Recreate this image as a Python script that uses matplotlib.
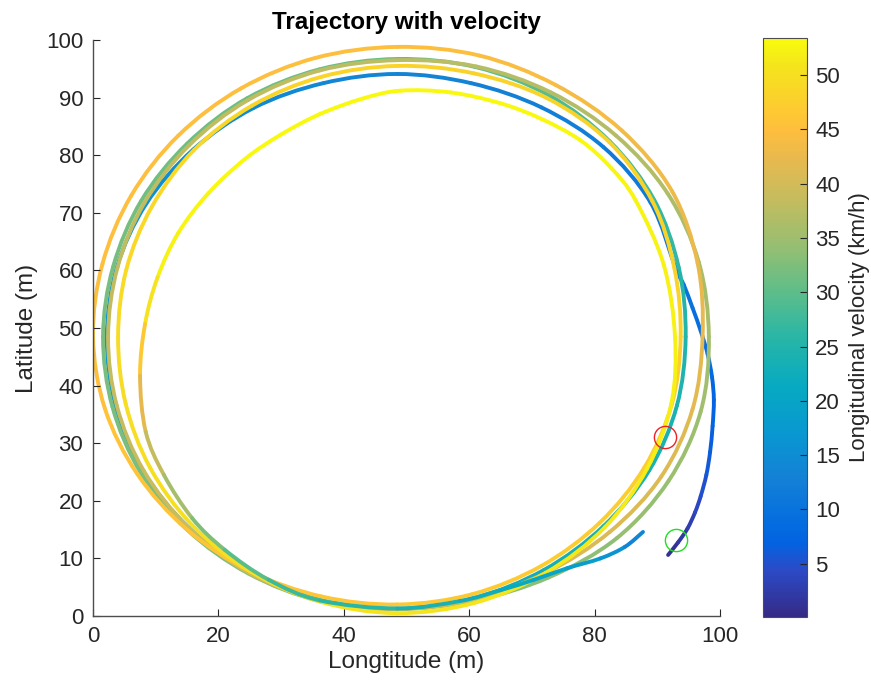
import numpy as np
import matplotlib.pyplot as plt
from matplotlib.collections import PatchCollection
from matplotlib.patches import PathPatch
from matplotlib.path import Path
from matplotlib.colors import LinearSegmentedColormap, Normalize

plt.rcParams['font.family'] = ['Liberation Sans', 'DejaVu Sans']

# trajectory: x (m), y (m), speed (km/h)
# pull-away from the start up the right side
start_x = [91.7, 93.3, 94.8, 96.0, 96.9, 97.8, 98.4, 98.8, 99.0, 98.7, 98.0, 96.9, 95.6, 94.2]
start_y = [10.6, 12.8, 15.2, 18.0, 20.8, 24.5, 28.5, 33.0, 37.5, 41.5, 45.5, 49.5, 53.5, 57.5]
start_v = [0.5, 1.5, 2.5, 3.5, 4.5, 5.5, 6.5, 7.0, 7.5, 8.0, 8.5, 9.0, 9.5, 10.0]

lap1_x = [92.9, 88.9, 81.4, 71.5, 60.3, 48.5, 36.7, 25.6, 16.0, 8.5, 3.8, 2.2,
          3.6, 8.0, 15.3, 24.9, 36.2, 48.5, 60.7, 71.9, 81.4, 88.7, 93.1]
lap1_y = [60.4, 71.8, 81.4, 88.3, 92.5, 94.1, 92.5, 88.2, 81.0, 71.6, 60.5, 48.5,
          36.5, 25.1, 15.3, 7.6, 2.8, 1.3, 3.1, 8.0, 15.6, 25.3, 36.5]
lap1_v = [10.5, 11, 12, 12.5, 13, 13.5, 14, 14.5, 15, 15.5, 16, 16.5,
          17, 18, 19, 20, 21, 22, 22.5, 23, 23.5, 24, 24.5]

lap2_x = [94.5, 93.4, 89.5, 82.4, 72.7, 61.0, 48.5, 36.1, 24.6, 15.0, 7.7, 3.2,
          1.6, 3.1, 7.6, 15.0, 24.75, 36.2, 48.5, 60.8, 72.65, 83.5, 91.8, 96.9]
lap2_y = [48.5, 60.5, 72.2, 82.4, 90.4, 95.3, 96.7, 94.9, 89.9, 82.0, 72.1, 60.6,
          48.5, 36.3, 24.9, 15.0, 7.4, 2.6, 1.2, 2.7, 6.7, 13.5, 23.5, 35.5]
lap2_v = [25, 26, 27, 28, 29, 30, 30.5, 31, 31, 31.5, 31.5, 32,
          32, 32, 32, 32, 32.5, 32.5, 33, 33, 33.5, 34, 34.5, 35]

lap3_x = [98.2, 96.6, 91.6, 83.4, 73.0, 61.1, 48.5, 36.1, 24.75, 15.3, 8.2, 3.9,
          2.4, 3.8, 8.1, 15.3, 24.85, 36.2, 48.5, 60.7, 72.2, 82.4, 90.6, 95.6]
lap3_y = [48.5, 61.4, 73.4, 83.4, 90.9, 95.4, 96.5, 94.7, 89.6, 81.7, 71.75, 60.5,
          48.5, 36.5, 25.2, 15.3, 7.5, 2.7, 1.2, 2.9, 7.5, 14.6, 24.2, 35.9]
lap3_v = [35.5, 36, 36.5, 37, 37, 37.5, 37.5, 38, 38, 38, 38, 38,
          38.5, 38.5, 39, 39, 39.5, 39.5, 40, 40, 40.5, 41, 41, 41.5]

lap4_x = [97.2, 96.4, 92.3, 84.3, 73.75, 61.6, 48.5, 35.5, 23.6, 13.6, 6.1, 1.5,
          0.0, 1.9, 7.1, 15.0, 25.0, 36.4, 48.5, 60.5, 71.5, 80.8, 87.9, 92.3]
lap4_y = [48.5, 61.3, 73.8, 84.3, 92.2, 97.3, 98.8, 96.9, 91.6, 83.4, 73.0, 61.1,
          48.5, 36.0, 24.6, 15.0, 7.8, 3.4, 2.0, 3.8, 8.7, 16.2, 25.75, 36.8]
lap4_v = [42, 42.5, 43, 43.5, 44, 44.5, 45, 45, 45, 45, 45, 45,
          45, 45.5, 45.5, 46, 46, 46, 46.5, 46.5, 47, 47, 47.5, 47.5]

lap5_x = [93.7, 92.7, 89.2, 82.3, 72.4, 60.75, 48.5, 36.4, 25.35, 16.1, 9.4, 5.3,
          4.0, 5.2, 9.1, 15.8, 25.0, 36.2, 48.5, 60.9, 72.2, 81.6, 88.3, 92.2]
lap5_y = [48.5, 60.4, 72.0, 82.3, 89.9, 94.2, 95.5, 93.6, 88.6, 80.9, 71.1, 60.1,
          48.5, 36.9, 25.75, 15.8, 7.8, 2.5, 0.5, 2.3, 7.5, 15.4, 25.5, 36.8]
lap5_v = [48, 48, 48, 48, 48, 48, 48, 48.5, 48.5, 49, 49, 49,
          49.5, 49.5, 50, 50, 50, 50.5, 50.5, 51, 51, 51.5, 51.5, 52]

# last lap: fast on top, braking down the left side, rolling out at the bottom
lap6_x = [92.8, 91.0, 86.5, 82.6, 77.7, 71.5, 65.0, 57.0, 49.0, 42.9, 36.1, 30.0,
          24.3, 18.4, 13.6, 10.3, 8.3, 7.5, 8.4, 11.3, 15.8, 21.0, 28.0,
          36.2, 48.5, 58.5, 65.0, 70.2, 75.6, 80.9, 84.8, 87.7]
lap6_y = [48.5, 61.0, 72.2, 77.8, 82.6, 86.3, 89.0, 90.9, 91.2, 89.8, 87.1, 83.6,
          79.4, 73.4, 66.5, 58.8, 50.7, 41.7, 32.0, 24.5, 17.0, 11.5, 6.3,
          2.7, 1.3, 2.6, 4.5, 6.25, 8.3, 10.0, 12.0, 14.6]
lap6_v = [52, 52.5, 52.5, 53, 53, 53, 53, 53, 53, 53, 53, 53,
          53, 53, 52.5, 52, 49, 44, 40, 37, 34, 31, 28,
          26.5, 25, 23.5, 22, 21, 19.5, 17.5, 15, 12]

start_marker = (93.0, 13.2)
end_marker = (91.2, 31.1)

v_min, v_max = 0.1, 53.4
cbar_ticks = [5, 10, 15, 20, 25, 30, 35, 40, 45, 50]
axis_ticks_x = [0, 20, 40, 60, 80, 100]
axis_ticks_y = [0, 10, 20, 30, 40, 50, 60, 70, 80, 90, 100]

# MATLAB parula, sampled
parula_pts = [
    (0 / 63, (0.2081, 0.1663, 0.5292)),
    (5 / 63, (0.1707, 0.2919, 0.7792)),
    (8 / 63, (0.0117, 0.3875, 0.8820)),
    (10 / 63, (0.0165, 0.4266, 0.8786)),
    (15 / 63, (0.0779, 0.5040, 0.8384)),
    (20 / 63, (0.0343, 0.5966, 0.8199)),
    (25 / 63, (0.0267, 0.6642, 0.7607)),
    (30 / 63, (0.1453, 0.7098, 0.6646)),
    (35 / 63, (0.3482, 0.7424, 0.5473)),
    (40 / 63, (0.5709, 0.7485, 0.4494)),
    (45 / 63, (0.7525, 0.7384, 0.3768)),
    (50 / 63, (0.9139, 0.7258, 0.3063)),
    (53 / 63, (0.9938, 0.7455, 0.2403)),
    (55 / 63, (0.9955, 0.7861, 0.1967)),
    (60 / 63, (0.9589, 0.8949, 0.1132)),
    (63 / 63, (0.9763, 0.9831, 0.0538)),
]
parula = LinearSegmentedColormap.from_list('parula', parula_pts)

x = np.array(start_x + lap1_x + lap2_x + lap3_x + lap4_x + lap5_x + lap6_x)
y = np.array(start_y + lap1_y + lap2_y + lap3_y + lap4_y + lap5_y + lap6_y)
v = np.array(start_v + lap1_v + lap2_v + lap3_v + lap4_v + lap5_v + lap6_v)

# one smooth (Catmull-Rom style bezier) piece between each pair of waypoints
pts = np.column_stack([x, y])
n = len(pts)
patches = []
for i in range(n - 1):
    p0 = pts[max(i - 1, 0)]
    p1 = pts[i]
    p2 = pts[i + 1]
    p3 = pts[min(i + 2, n - 1)]
    c1 = p1 + (p2 - p0) / 6
    c2 = p2 - (p3 - p1) / 6
    path = Path([p1, c1, c2, p2], [Path.MOVETO, Path.CURVE4, Path.CURVE4, Path.CURVE4])
    patches.append(PathPatch(path))
seg_v = (v[:-1] + v[1:]) / 2

fig = plt.figure(figsize=(8.71, 6.86), dpi=100)
ax = fig.add_axes([0.1068, 0.102, 0.72, 0.8397])

pc = PatchCollection(patches, cmap=parula, norm=Normalize(v_min, v_max),
                     facecolors='none', linewidths=2.8, capstyle='round', joinstyle='round')
pc.set_array(seg_v)
ax.add_collection(pc)

ax.plot(start_marker[0], start_marker[1], 'o', mfc='none', mec='#22dd22', ms=16, mew=1)
ax.plot(end_marker[0], end_marker[1], 'o', mfc='none', mec='#ee2222', ms=16, mew=1)

ax.set_xlim(0, 100)
ax.set_ylim(0, 100)
ax.set_xticks(axis_ticks_x)
ax.set_yticks(axis_ticks_y)
for s in ['top', 'right']:
    ax.spines[s].set_visible(False)
for s in ['left', 'bottom']:
    ax.spines[s].set_color('#4d4d4d')
    ax.spines[s].set_linewidth(1.0)
ax.tick_params(direction='in', length=5, width=0.8, labelsize=16, colors='#262626', pad=7)

ax.set_title('Trajectory with velocity', fontsize=17.5, fontweight='bold', pad=8)
ax.set_xlabel('Longtitude (m)', fontsize=17.5, color='#262626', labelpad=3)
ax.set_ylabel('Latitude (m)', fontsize=17.5, color='#262626', labelpad=6)

cax = fig.add_axes([0.876, 0.1006, 0.0505, 0.844])
cbar = fig.colorbar(pc, cax=cax)
cbar.set_ticks(cbar_ticks)
cbar.outline.set_edgecolor('#4d4d4d')
cbar.outline.set_linewidth(0.8)
cax.tick_params(direction='in', length=5, width=0.8, labelsize=16, colors='#262626', pad=6)
cbar.set_label('Longitudinal velocity (km/h)', fontsize=16, color='#262626', labelpad=6)

fig.savefig('out.png', dpi=100)
